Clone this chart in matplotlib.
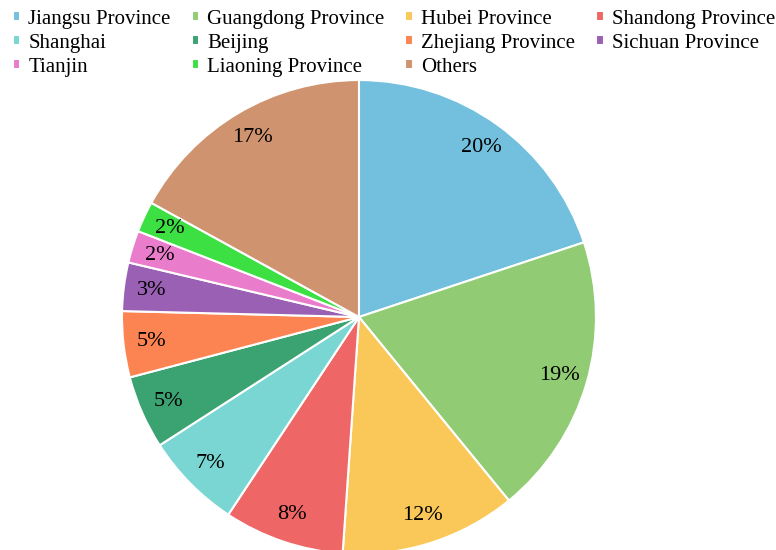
import matplotlib
matplotlib.use("Agg")
import matplotlib.pyplot as plt

plt.rcParams['font.family'] = ['Liberation Serif', 'DejaVu Serif']

# share of each region (%)
regions = ['Jiangsu Province', 'Guangdong Province', 'Hubei Province', 'Shandong Province',
           'Shanghai', 'Beijing', 'Zhejiang Province', 'Sichuan Province',
           'Tianjin', 'Liaoning Province', 'Others']
shares = [19.9, 19.2, 12.0, 8.2, 6.6, 5.0, 4.5, 3.3, 2.2, 2.1, 17.0]
pct_labels = ['20%', '19%', '12%', '8%', '7%', '5%', '5%', '3%', '2%', '2%', '17%']
colors = ['#73c0de', '#91cc75', '#fac858', '#ee6666', '#7ad6d2', '#3ba272',
          '#fc8452', '#9a60b4', '#ea7ccc', '#3ce043', '#d0936f']

fig = plt.figure(figsize=(7.76, 5.5), dpi=100)
ax = fig.add_axes([0.1572, -0.0073, 0.6108, 0.8618])

wedges, texts = ax.pie(shares, labels=pct_labels, colors=colors, startangle=90,
                       counterclock=False, labeldistance=0.88, radius=1.0,
                       wedgeprops=dict(edgecolor='white', linewidth=1.5),
                       textprops=dict(fontsize=16, color='black', ha='center', va='center'))
for t in texts:
    t.set_horizontalalignment('center')
ax.set_xlim(-1, 1)
ax.set_ylim(-1, 1)
ax.set_aspect('equal')

# legend is row-major in the picture, matplotlib fills column by column
order = [0, 4, 8, 1, 5, 9, 2, 6, 10, 3, 7]
fig.legend([wedges[i] for i in order], [regions[i] for i in order],
           loc='upper left', bbox_to_anchor=(0.0, 1.005), ncol=4, frameon=False,
           fontsize=15, handlelength=0.38, handleheight=0.38, handletextpad=0.38,
           columnspacing=1.0, labelspacing=0.24, borderaxespad=0.2)

fig.savefig('out.png', dpi=100)
